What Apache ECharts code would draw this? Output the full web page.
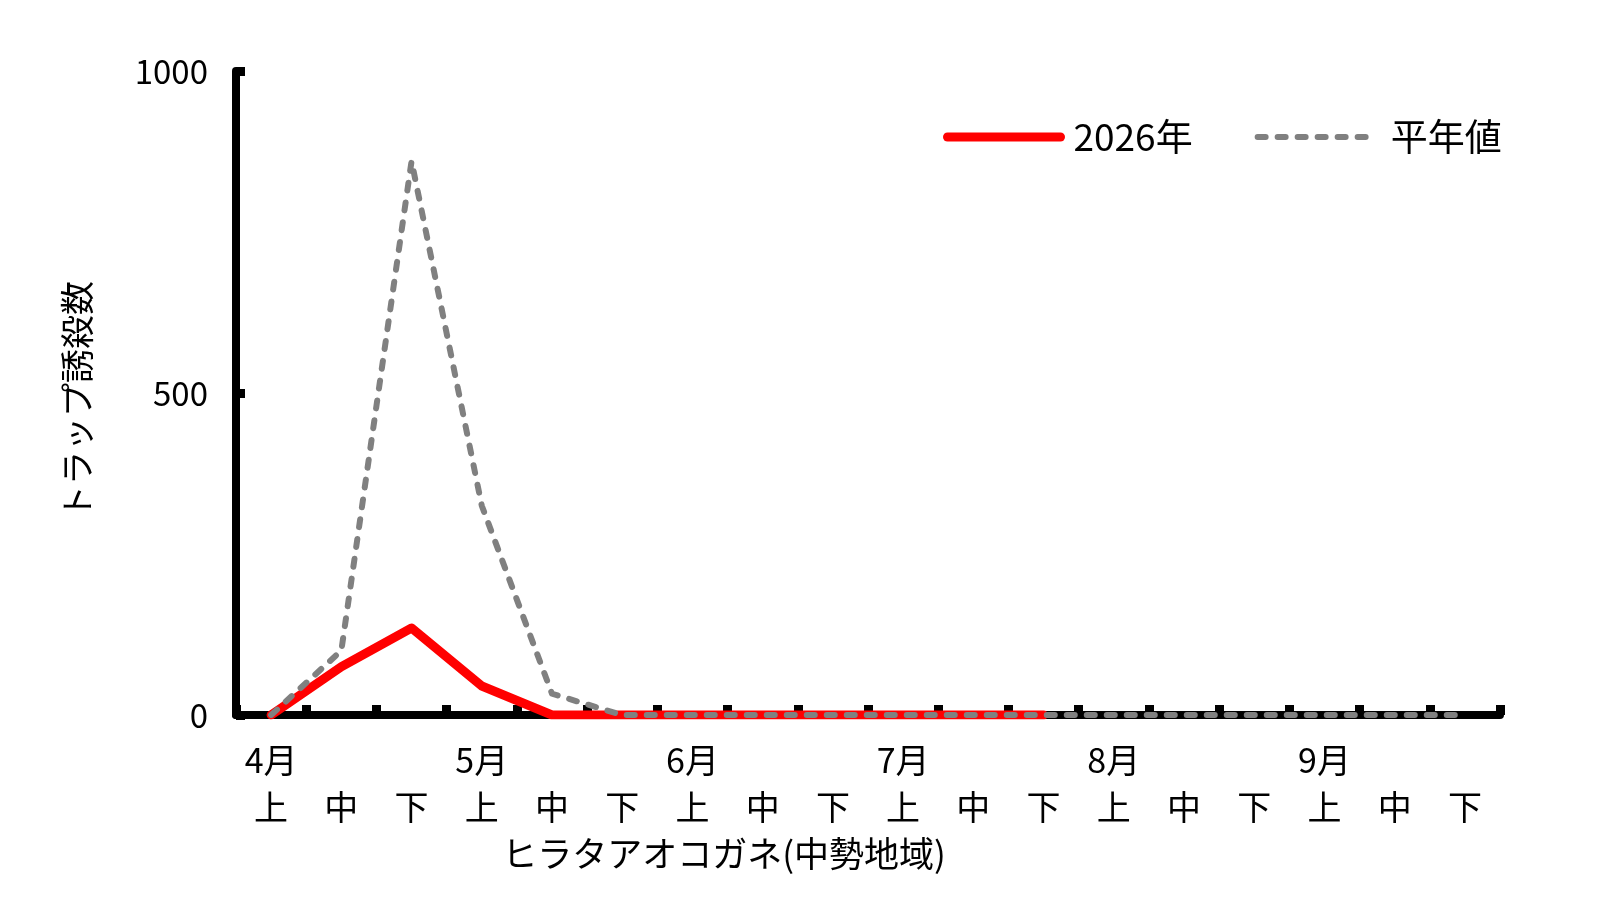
<!DOCTYPE html>
<html><head><meta charset="utf-8">
<script src="https://cdn.jsdelivr.net/npm/echarts@6/dist/echarts.min.js"></script>
<style>html,body{margin:0;padding:0;background:#fff;}#c{width:1615px;height:912px;}</style>
</head><body><div id="c"></div>
<script>
const months = ['4月','5月','6月','7月','8月','9月'];
const periods = ['上','中','下'];
const categories = [];
months.forEach(m => periods.forEach(p => categories.push(m + p)));
const series2026 = [0, 75, 135, 45, 0, 0, 0, 0, 0, 0, 0, 0, null, null, null, null, null, null];
const seriesNormal = [0, 100, 860, 325, 33, 0, 0, 0, 0, 0, 0, 0, 0, 0, 0, 0, 0, 0];
const yTicks = [0, 500, 1000];
const seriesNames = ['2026年', '平年値'];
const xTitle = 'ヒラタアオコガネ(中勢地域)';
const yTitle = 'トラップ誘殺数';

const FONT = '"Noto Sans CJK JP", "Noto Sans", sans-serif';
const chart = echarts.init(document.getElementById('c'));
chart.setOption({
  animation: false,
  backgroundColor: '#fff',
  grid: { left: 236, right: 115, top: 71, bottom: 197, containLabel: false },
  legend: {
    left: 943, top: 115, padding: 0,
    itemWidth: 113, itemHeight: 20, itemGap: 62,
    textStyle: { fontFamily: FONT, fontSize: 37, color: '#000', lineHeight: 44 },
    data: [
      { name: seriesNames[0], lineStyle: { width: 9 }, itemStyle: { opacity: 0 }, textStyle: { padding: [0, 0, 0, 8] } },
      { name: seriesNames[1], lineStyle: { width: 6 }, itemStyle: { opacity: 0 }, textStyle: { padding: [0, 0, 0, 15] } }
    ]
  },
  xAxis: {
    type: 'category',
    data: categories,
    boundaryGap: true,
    axisLine: { lineStyle: { color: '#000', width: 8 } },
    axisTick: { show: true, inside: true, length: 10, alignWithLabel: false, lineStyle: { color: '#000', width: 9 } },
    axisLabel: {
      interval: 0, margin: 22, color: '#000', fontFamily: FONT, fontSize: 34, lineHeight: 47,
      formatter: function (v) {
        const m = v.slice(0, v.length - 1), p = v.slice(-1);
        return (p === '上' ? m : ' ') + '\n' + p;
      }
    },
    splitLine: { show: false }
  },
  yAxis: {
    type: 'value', min: yTicks[0], max: yTicks[yTicks.length - 1], interval: 500,
    axisLine: { show: true, lineStyle: { color: '#000', width: 8 } },
    axisTick: { show: true, inside: true, length: 9, lineStyle: { color: '#000', width: 9 } },
    axisLabel: { margin: 28, color: '#000', fontFamily: FONT, fontSize: 33, formatter: function (v) { return String(v); } },
    splitLine: { show: false }
  },
  graphic: [
    { type: 'text', x: 724, y: 854, style: { text: xTitle, fontFamily: FONT, fontSize: 35, fill: '#000', textAlign: 'center', textVerticalAlign: 'middle' } },
    { type: 'text', x: 77, y: 400, rotation: Math.PI / 2, style: { text: yTitle, fontFamily: FONT, fontSize: 34, fill: '#000', textAlign: 'center', textVerticalAlign: 'middle' } }
  ],
  series: [
    {
      name: seriesNames[0], type: 'line', data: series2026, symbol: 'none', showSymbol: false,
      lineStyle: { color: '#ff0000', width: 9, cap: 'round', join: 'round' },
      itemStyle: { color: '#ff0000' }, z: 2
    },
    {
      name: seriesNames[1], type: 'line', data: seriesNormal, symbol: 'none', showSymbol: false,
      lineStyle: { color: '#808080', width: 6, type: [8, 12], cap: 'round', join: 'round' },
      itemStyle: { color: '#808080' }, z: 3
    }
  ]
});
</script></body></html>
